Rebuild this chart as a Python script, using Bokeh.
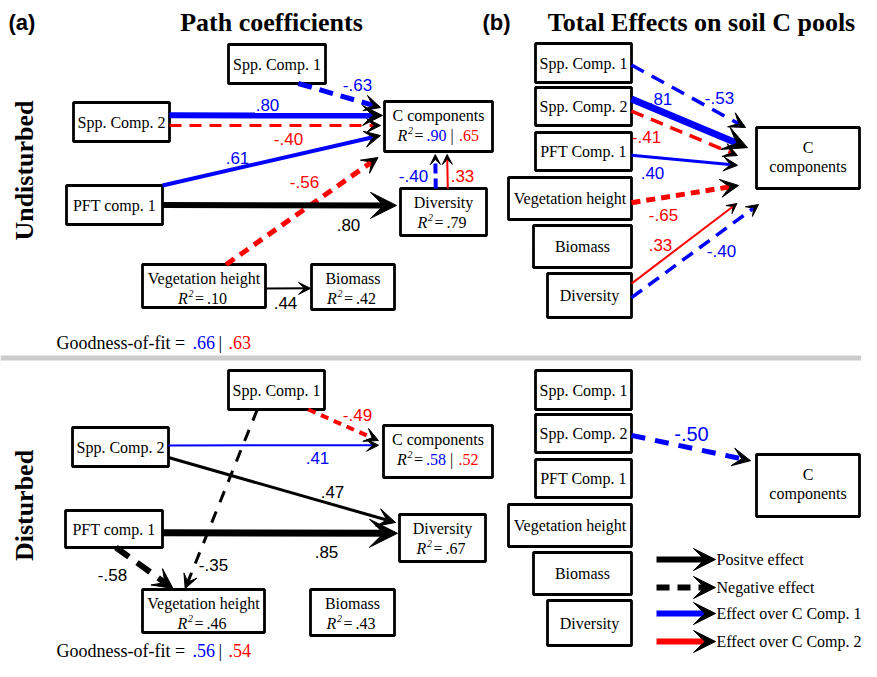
import math
from bokeh.plotting import figure
from bokeh.models import Range1d, Arrow, VeeHead
from bokeh.core.properties import value
from bokeh.embed import file_html
from bokeh.resources import INLINE

# ---------------- data ----------------
PANEL_TAGS = ["(a)", "(b)"]
PANEL_TITLES = ["Path coefficients", "Total Effects on soil C pools"]
ROW_LABELS = ["Undisturbed", "Disturbed"]

PATH_NODES = ["Spp. Comp. 1", "Spp. Comp. 2", "C components", "Diversity",
              "PFT comp. 1", "Vegetation height", "Biomass"]
TOTAL_NODES = ["Spp. Comp. 1", "Spp. Comp. 2", "PFT Comp. 1", "Vegetation height",
               "Biomass", "Diversity", "C components"]

UND_R2_C = [0.90, 0.65]
UND_R2_DIV = [0.79]
UND_R2_VEG = [0.10]
UND_R2_BIO = [0.42]
UND_GOF = [0.66, 0.63]

DIS_R2_C = [0.58, 0.52]
DIS_R2_DIV = [0.67]
DIS_R2_VEG = [0.46]
DIS_R2_BIO = [0.43]
DIS_GOF = [0.56, 0.54]

UND_PATH_FROM = ["Spp. Comp. 1", "Spp. Comp. 2", "Spp. Comp. 2", "PFT comp. 1",
                 "Vegetation height", "PFT comp. 1", "Diversity", "Diversity",
                 "Vegetation height"]
UND_PATH_TO = ["C components", "C components", "C components", "C components",
               "C components", "Diversity", "C components", "C components", "Biomass"]
UND_PATH_COEF = [-0.63, 0.80, -0.40, 0.61, -0.56, 0.80, -0.40, 0.33, 0.44]
UND_PATH_RESP = ["C1", "C1", "C2", "C1", "C2", "", "C1", "C2", ""]

UND_TOTAL_FROM = ["Spp. Comp. 1", "Spp. Comp. 2", "Spp. Comp. 2", "PFT Comp. 1",
                  "Vegetation height", "Diversity", "Diversity"]
UND_TOTAL_COEF = [-0.53, 0.81, -0.41, 0.40, -0.65, 0.33, -0.40]
UND_TOTAL_RESP = ["C1", "C1", "C2", "C1", "C2", "C2", "C1"]

DIS_PATH_FROM = ["Spp. Comp. 1", "Spp. Comp. 2", "Spp. Comp. 2", "PFT comp. 1",
                 "Spp. Comp. 1", "PFT comp. 1"]
DIS_PATH_TO = ["C components", "C components", "Diversity", "Diversity",
               "Vegetation height", "Vegetation height"]
DIS_PATH_COEF = [-0.49, 0.41, 0.47, 0.85, -0.35, -0.58]
DIS_PATH_RESP = ["C2", "C1", "", "", "", ""]

DIS_TOTAL_FROM = ["Spp. Comp. 2"]
DIS_TOTAL_COEF = [-0.50]
DIS_TOTAL_RESP = ["C1"]

LEGEND_LABELS = ["Positve effect", "Negative effect",
                 "Effect over C Comp. 1", "Effect over C Comp. 2"]

# ---------------- layout / style ----------------
SERIF = "Liberation Serif"
SANS = "Liberation Sans"
RESP_COLOR = {"C1": "#0000ff", "C2": "#ff0000", "": "#000000"}
BOX_FONT = "16px"

BOXES = {
    "UA": {"Spp. Comp. 1": (228, 44, 325, 83), "Spp. Comp. 2": (73, 102, 169, 141),
           "C components": (384, 101, 492, 151), "Diversity": (400, 188, 486, 235),
           "PFT comp. 1": (66, 185, 162, 224), "Vegetation height": (142, 264, 265, 307),
           "Biomass": (311, 264, 394, 309)},
    "UB": {"Spp. Comp. 1": (535, 43, 631, 82), "Spp. Comp. 2": (535, 87, 631, 125),
           "PFT Comp. 1": (535, 132, 631, 170), "Vegetation height": (508, 177, 631, 219),
           "Biomass": (533, 225, 631, 267), "Diversity": (547, 273, 631, 317),
           "C components": (756, 127, 859, 188)},
    "DA": {"Spp. Comp. 1": (228, 370, 324, 409), "Spp. Comp. 2": (72, 427, 168, 466),
           "C components": (383, 425, 492, 477), "Diversity": (399, 514, 485, 561),
           "PFT comp. 1": (65, 510, 162, 547), "Vegetation height": (142, 589, 264, 632),
           "Biomass": (310, 589, 394, 635)},
    "DB": {"Spp. Comp. 1": (535, 370, 631, 409), "Spp. Comp. 2": (535, 414, 631, 452),
           "PFT Comp. 1": (535, 459, 631, 497), "Vegetation height": (508, 504, 631, 546),
           "Biomass": (533, 552, 631, 594), "Diversity": (547, 600, 631, 645),
           "C components": (756, 454, 859, 516)},
}

# (from side, t, to side, t, gap, width, head size, dash, label position)
EDGE_STYLE = {
    "UA": [("b", 0.72, "l", 0.12, 4, 5, 16, "14 8", (357, 84)),
           ("r", 0.33, "l", 0.28, 2, 6, 20, None, (267, 104)),
           ("r", 0.59, "l", 0.48, 4, 3, 14, "12 8", (288, 138)),
           ("t", 1.00, "l", 0.68, 4, 4, 16, None, (237, 157)),
           ("t", 0.68, "b", -0.06, 6, 5, 16, "10 7", (304, 181)),
           ("r", 0.50, "l", 0.36, 4, 6, 26, None, (348, 224)),
           ("t", 0.41, "b", 0.47, 3, 4, 10, "10 5", (413, 175)),
           ("t", 0.55, "b", 0.58, 3, 2, 10, None, (462, 175)),
           ("r", 0.56, "l", 0.53, 1, 2, 12, None, (285, 302))],
    "UB": [("r", 0.55, "l", 0.00, 11, 3.5, 16, "14 9", (719, 97)),
           ("r", 0.30, "l", 0.33, 9, 7, 24, None, (660, 98)),
           ("r", 0.62, "l", 0.46, 19, 3.5, 14, "13 8", (646, 136)),
           ("r", 0.60, "l", 0.62, 19, 3, 14, None, (652, 172)),
           ("r", 0.60, "l", 0.95, 18, 5, 18, "9 6", (663, 214)),
           ("r", 0.23, "b", -0.19, 15, 2, 10, None, (660, 244)),
           ("r", 0.55, "b", 0.02, 16, 3.5, 12, "13 8", (721, 250))],
    "DA": [("b", 0.83, "l", 0.29, 5, 4, 14, "8 6", (357, 414)),
           ("r", 0.46, "l", 0.38, 5, 2, 12, None, (317, 457)),
           ("r", 0.77, "l", 0.17, 4, 3, 18, None, (332, 491)),
           ("r", 0.60, "l", 0.40, 2, 7, 28, None, (326, 551)),
           ("b", 0.30, "t", 0.35, 1, 3, 14, "12 10", (213, 564)),
           ("b", 0.52, "t", 0.25, 1, 6, 20, "16 10", (112, 574))],
    "DB": [("r", 0.55, "l", 0.10, 6, 5, 18, "14 10", (691, 433))],
}

p = figure(width=861, height=661, x_range=Range1d(0, 861), y_range=Range1d(661, 0),
           output_backend="svg", toolbar_location=None, min_border=0,
           x_axis_location=None, y_axis_location=None, outline_line_color=None)
p.grid.visible = False
p.background_fill_color = "white"
p.border_fill_color = "white"


def fmt(v):
    s = f"{abs(v):.2f}".lstrip("0")
    return ("-" if v < 0 else "") + s


def txt(x, y, s, size=BOX_FONT, color="black", font=SERIF, style="normal",
        align="center", angle=0.0, baseline="middle"):
    p.text(x=[x], y=[y], text=[s], text_font=value(font), text_font_size=size,
           text_color=color, text_font_style=style, text_align=align,
           text_baseline=baseline, angle=angle)


def anchor(box, side, t, gap=0.0):
    x0, y0, x1, y1 = box
    if side == "l":
        return x0 - gap, y0 + t * (y1 - y0)
    if side == "r":
        return x1 + gap, y0 + t * (y1 - y0)
    if side == "t":
        return x0 + t * (x1 - x0), y0 - gap
    return x0 + t * (x1 - x0), y1 + gap


def arrow(xs, ys, xe, ye, color, width, head, dash=None):
    kw = dict(line_dash=dash) if dash else {}
    p.add_layout(Arrow(end=VeeHead(size=head, fill_color="black", line_color="black",
                                   line_width=1),
                       x_start=xs, y_start=ys, x_end=xe, y_end=ye,
                       line_color=color, line_width=width, **kw))


def r2_line(cx, y, vals):
    x0 = cx - (41 if len(vals) == 2 else 26)
    txt(x0, y, "R", style="italic", align="left")
    txt(x0 + 10.5, y - 5, "2", size="10px", style="italic", align="left")
    txt(x0 + 17, y, "=", align="left")
    txt(x0 + 29, y, fmt(vals[0]), color=RESP_COLOR["C1" if len(vals) == 2 else ""],
        align="left")
    if len(vals) == 2:
        txt(x0 + 53, y, "|", align="left")
        txt(x0 + 61.5, y, fmt(vals[1]), color=RESP_COLOR["C2"], align="left")


# separator
p.quad(left=[0], right=[861], top=[355], bottom=[360], fill_color="#cccccc",
       line_color=None)

# boxes
for key, boxes in BOXES.items():
    xs0, ys0, xs1, ys1 = zip(*boxes.values())
    p.quad(left=list(xs0), right=list(xs1), top=list(ys0), bottom=list(ys1),
           fill_color="white", line_color="black", line_width=2.8)

# box texts (path panels)
for key, r2c, r2d, r2v, r2b in (("UA", UND_R2_C, UND_R2_DIV, UND_R2_VEG, UND_R2_BIO),
                                 ("DA", DIS_R2_C, DIS_R2_DIV, DIS_R2_VEG, DIS_R2_BIO)):
    boxes = BOXES[key]
    r2map = {"C components": r2c, "Diversity": r2d, "Vegetation height": r2v,
             "Biomass": r2b}
    for name in PATH_NODES:
        x0, y0, x1, y1 = boxes[name]
        cx = (x0 + x1) / 2
        if name in r2map:
            txt(cx, y0 + 13.5, name)
            r2_line(cx, y0 + 33.5, r2map[name])
        else:
            txt(cx, (y0 + y1) / 2, name)

# box texts (total panels)
for key in ("UB", "DB"):
    boxes = BOXES[key]
    for name in TOTAL_NODES:
        x0, y0, x1, y1 = boxes[name]
        cx = (x0 + x1) / 2
        if name == "C components":
            txt(cx, y0 + 20, "C")
            txt(cx, y0 + 38.5, "components")
        else:
            txt(cx, (y0 + y1) / 2, name)

# edges
panels = [
    ("UA", UND_PATH_FROM, UND_PATH_TO, UND_PATH_COEF, UND_PATH_RESP),
    ("UB", UND_TOTAL_FROM, ["C components"] * len(UND_TOTAL_FROM), UND_TOTAL_COEF, UND_TOTAL_RESP),
    ("DA", DIS_PATH_FROM, DIS_PATH_TO, DIS_PATH_COEF, DIS_PATH_RESP),
    ("DB", DIS_TOTAL_FROM, ["C components"] * len(DIS_TOTAL_FROM), DIS_TOTAL_COEF, DIS_TOTAL_RESP),
]
for key, frm, to, coef, resp in panels:
    boxes = BOXES[key]
    for f, t, c, r, st in zip(frm, to, coef, resp, EDGE_STYLE[key]):
        fs, ft, ts, tt, gap, w, hs, dash, (lx, ly) = st
        xs, ys = anchor(boxes[f], fs, ft)
        xe, ye = anchor(boxes[t], ts, tt, gap)
        color = RESP_COLOR[r]
        arrow(xs, ys, xe, ye, color, w, hs, dash if c < 0 else None)
        size = "20px" if key == "DB" else "17px"
        txt(lx, ly, fmt(c), size=size, color=color, font=SANS)

# titles
txt(8, 22, PANEL_TAGS[0], size="22px", font=SANS, style="bold", align="left")
txt(482, 22, PANEL_TAGS[1], size="22px", font=SANS, style="bold", align="left")
txt(271, 22, PANEL_TITLES[0], size="26px", style="bold")
txt(701, 22, PANEL_TITLES[1], size="26px", style="bold")
txt(24, 170, ROW_LABELS[0], size="26px", style="bold", angle=math.pi / 2)
txt(24, 505, ROW_LABELS[1], size="26px", style="bold", angle=math.pi / 2)

# goodness of fit
for y, gof in ((342, UND_GOF), (650, DIS_GOF)):
    txt(56, y, "Goodness-of-fit =", size="18px", align="left")
    txt(192, y, fmt(gof[0]), size="18px", color=RESP_COLOR["C1"], align="left")
    txt(218, y, "|", size="18px", align="left")
    txt(228, y, fmt(gof[1]), size="18px", color=RESP_COLOR["C2"], align="left")

# legend
leg_y = [559, 587, 613, 641]
leg_col = ["#000000", "#000000", RESP_COLOR["C1"], RESP_COLOR["C2"]]
leg_dash = [None, "13 8", None, None]
for y, col, d, lab in zip(leg_y, leg_col, leg_dash, LEGEND_LABELS):
    arrow(656, y, 715, y, col, 6, 22, d)
    txt(716, y, lab, size="16px", align="left")

open("out.html", "w").write(file_html(p, INLINE))
